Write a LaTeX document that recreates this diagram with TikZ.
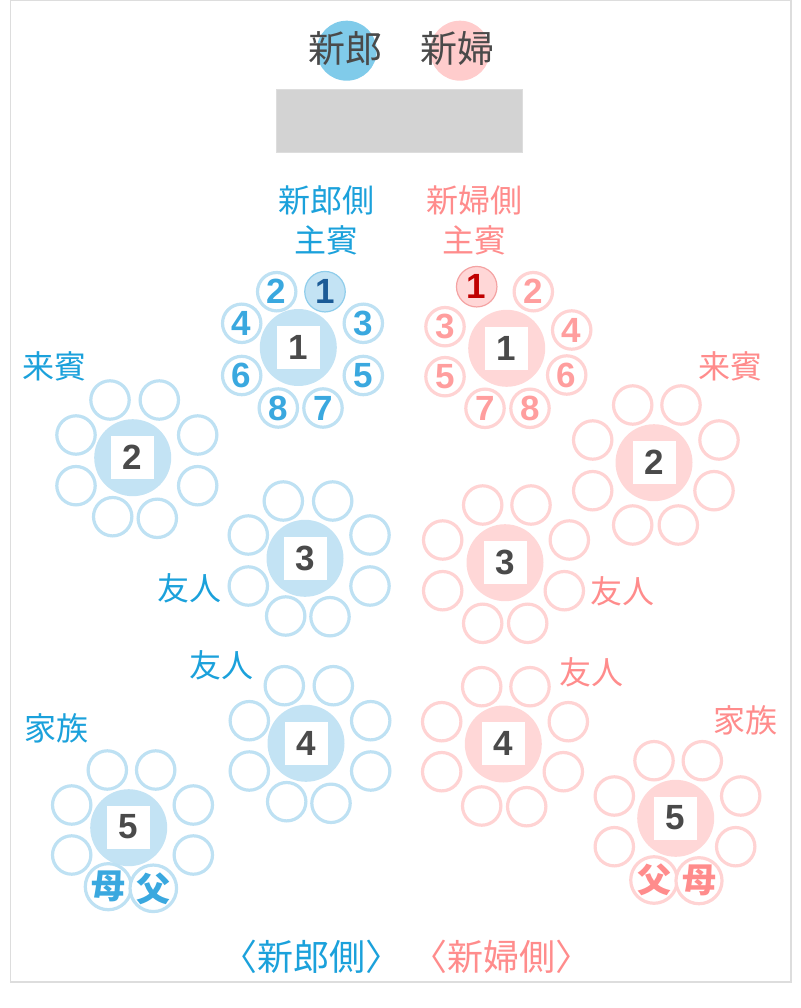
\documentclass[tikz,border=0pt]{standalone}
\usepackage{fontspec}
\setmainfont{Liberation Sans}
\newfontfamily\jp{Noto Sans CJK JP}
\definecolor{bluetxt}{HTML}{1BA1DB}
\definecolor{pinktxt}{HTML}{FF8C8C}
\definecolor{bluenum}{HTML}{3AA8DF}
\definecolor{pinknum}{HTML}{FF9E9E}
\definecolor{bluefill}{HTML}{C3E3F4}
\definecolor{pinkfill}{HTML}{FFD7D7}
\definecolor{bluering}{HTML}{BEE1F3}
\definecolor{pinkring}{HTML}{FFD3D3}
\definecolor{dgray}{HTML}{4A4A4A}
\definecolor{vipbring}{HTML}{8FCDEB}
\definecolor{vipbtxt}{HTML}{1B5B97}
\definecolor{vipprng}{HTML}{F4A3A3}
\definecolor{vipptxt}{HTML}{C00000}
\definecolor{groomc}{HTML}{80CBEA}
\definecolor{bridec}{HTML}{FFCCCC}
\definecolor{framec}{HTML}{DDDDDD}
\definecolor{stagec}{HTML}{D3D3D3}
\tikzset{
  seatB/.style={circle, draw=bluering, line width=3.2pt, fill=white, minimum size=38.4pt, inner sep=0pt, text=bluenum, font=\fontsize{35}{35}\selectfont\bfseries},
  seatP/.style={circle, draw=pinkring, line width=3.2pt, fill=white, minimum size=38.4pt, inner sep=0pt, text=pinknum, font=\fontsize{35}{35}\selectfont\bfseries},
  vipB/.style={seatB, draw=vipbring, line width=1.2pt, fill=bluefill, minimum size=40.5pt, text=vipbtxt},
  vipP/.style={seatP, draw=vipprng, line width=1.2pt, fill=pinkfill, minimum size=40.5pt, text=vipptxt},
  tableB/.style={circle, fill=bluefill, minimum size=77pt, inner sep=0pt},
  tableP/.style={circle, fill=pinkfill, minimum size=77pt, inner sep=0pt},
  numsq/.style={fill=white, minimum size=43pt, inner sep=0pt, text=dgray, font=\fontsize{35}{35}\selectfont\bfseries},
  lblB/.style={text=bluetxt, inner sep=0pt, font=\jp\fontsize{32}{38}\selectfont, align=center},
  lblP/.style={text=pinktxt, inner sep=0pt, font=\jp\fontsize{32}{38}\selectfont, align=center},
  parB/.style={seatB, font=\jp\bfseries\fontsize{34}{34}\selectfont},
  parP/.style={seatP, text=pinktxt, font=\jp\bfseries\fontsize{34}{34}\selectfont},
}
\begin{document}
\begin{tikzpicture}[x=1pt,y=-1pt]
\useasboundingbox (0,0) rectangle (800,1008);
\draw[framec, line width=1.4pt] (10.5,0.5) rectangle (791,982);
% couple
\node[circle, fill=groomc, minimum size=60pt, inner sep=0pt] (groomdot) at (346.7,50.7) {};
\node[circle, fill=bridec, minimum size=60pt, inner sep=0pt] (bridedot) at (460,50.7) {};
\node[text=dgray, font=\jp\fontsize{37}{37}\selectfont, inner sep=0pt] (groom) at (345,48.5) {新郎};
\node[text=dgray, font=\jp\fontsize{37}{37}\selectfont, inner sep=0pt] (bride) at (457.5,48.5) {新婦};
\node[draw=framec, fill=stagec, line width=1pt, minimum width=246pt, minimum height=63pt, inner sep=0pt] (stage) at (399,121) {};
% side labels
\node[lblB] (gvipl1) at (326,200) {新郎側};
\node[lblB] (gvipl2) at (326,240) {主賓};
\node[lblP] (bvipl1) at (474,200) {新婦側};
\node[lblP] (bvipl2) at (474,240) {主賓};
\node[lblB] (gl2) at (54.5,366) {来賓};
\node[lblP] (bl2) at (730.5,366) {来賓};
\node[lblB] (gl3) at (189,588) {友人};
\node[lblP] (bl3) at (622.5,591) {友人};
\node[lblB] (gl4) at (221,665) {友人};
\node[lblP] (bl4) at (591.7,672) {友人};
\node[lblB] (gl5) at (56.7,728) {家族};
\node[lblP] (bl5) at (745,720) {家族};
% ===== groom tables =====
\node[tableB] (gT1) at (298.3,347.5) {};
\node[numsq] (gN1) at (298.3,347) {1};
\node[vipB] (gs1) at (325,291.7) {1};
\node[seatB] (gs2) at (276.7,291.7) {2};
\node[seatB] (gs3) at (363.3,323.3) {3};
\node[seatB] (gs4) at (241.7,323.3) {4};
\node[seatB] (gs5) at (363.3,375.5) {5};
\node[seatB] (gs6) at (241.7,375.5) {6};
\node[seatB] (gs7) at (323,408) {7};
\node[seatB] (gs8) at (278.3,408) {8};

\node[tableB] (gT2) at (132.7,457.7) {};
\node[numsq] (gN2) at (132.5,457.5) {2};
\foreach \x/\y [count=\i] in {110/400,159.3/400,76/435,197.7/435,76/485.7,197.7/485.7,112.7/516.7,157.3/518.3}
  \node[seatB] (g2s\i) at (\x,\y) {};

\node[tableB] (gT3) at (305,558.3) {};
\node[numsq] (gN3) at (305,558) {3};
\foreach \x/\y [count=\i] in {283.3/501,332.7/501,248.3/535,370/535,248.3/586,370/586,285.7/616,330/616.7}
  \node[seatB] (g3s\i) at (\x,\y) {};

\node[tableB] (gT4) at (306,743.3) {};
\node[numsq] (gN4) at (306,743) {4};
\foreach \x/\y [count=\i] in {284.3/685.7,333.3/685.7,249.3/720.7,370.7/720.7,249.3/771,370.7/771,286.7/801.7,331/803.3}
  \node[seatB] (g4s\i) at (\x,\y) {};

\node[tableB] (gT5) at (128.7,827.7) {};
\node[numsq] (gN5) at (128.7,827) {5};
\foreach \x/\y [count=\i] in {107.3/770,155.7/770,71.7/805,193.3/805,71.7/855,193.3/855}
  \node[seatB] (g5s\i) at (\x,\y) {};
\node[parB] (g5mother) at (108.3,886.7) {母};
\node[parB] (g5father) at (153.3,888.3) {父};
% ===== bride tables =====
\node[tableP] (bT1) at (506.7,348.3) {};
\node[numsq] (bN1) at (506.7,348) {1};
\node[vipP] (bs1) at (476.7,286.7) {1};
\node[seatP] (bs2) at (533.3,291.7) {2};
\node[seatP] (bs3) at (445,326.7) {3};
\node[seatP] (bs4) at (571.7,330) {4};
\node[seatP] (bs5) at (445,376.7) {5};
\node[seatP] (bs6) at (566.7,375) {6};
\node[seatP] (bs7) at (485,408.3) {7};
\node[seatP] (bs8) at (530,408.3) {8};

\node[tableP] (bT2) at (654,462.7) {};
\node[numsq] (bN2) at (654,462.5) {2};
\foreach \x/\y [count=\i] in {632.7/405,681/405,592.7/440,719/440,592.7/490.7,714/490.7,632.7/525,678.3/525}
  \node[seatP] (b2s\i) at (\x,\y) {};

\node[tableP] (bT3) at (505,562.7) {};
\node[numsq] (bN3) at (505,562.5) {3};
\foreach \x/\y [count=\i] in {482.7/505,531/505,442.7/540,569.3/540,442.7/590.7,564.3/590.7,482.7/623.3,527.7/623.3}
  \node[seatP] (b3s\i) at (\x,\y) {};

\node[tableP] (bT4) at (503.3,744) {};
\node[numsq] (bN4) at (503.3,743.5) {4};
\foreach \x/\y [count=\i] in {481.7/686.7,530/686.7,441.7/721.7,568.3/721.7,441.7/771.7,563.3/771.7,481.7/806,526.7/806.7}
  \node[seatP] (b4s\i) at (\x,\y) {};

\node[tableP] (bT5) at (675.7,818.3) {};
\node[numsq] (bN5) at (675.7,818) {5};
\foreach \x/\y [count=\i] in {654/760.7,702.3/760.7,614.3/796,740.7/796,614.3/846.7,735.7/846.7}
  \node[seatP] (b5s\i) at (\x,\y) {};
\node[parP] (b5father) at (654,880) {父};
\node[parP] (b5mother) at (699,880.7) {母};
% bottom labels
\node[lblB, font=\jp\fontsize{36}{36}\selectfont] (gside) at (311.7,957) {〈新郎側〉};
\node[lblP, font=\jp\fontsize{36}{36}\selectfont] (bside) at (501.7,957) {〈新婦側〉};
\end{tikzpicture}
\end{document}
